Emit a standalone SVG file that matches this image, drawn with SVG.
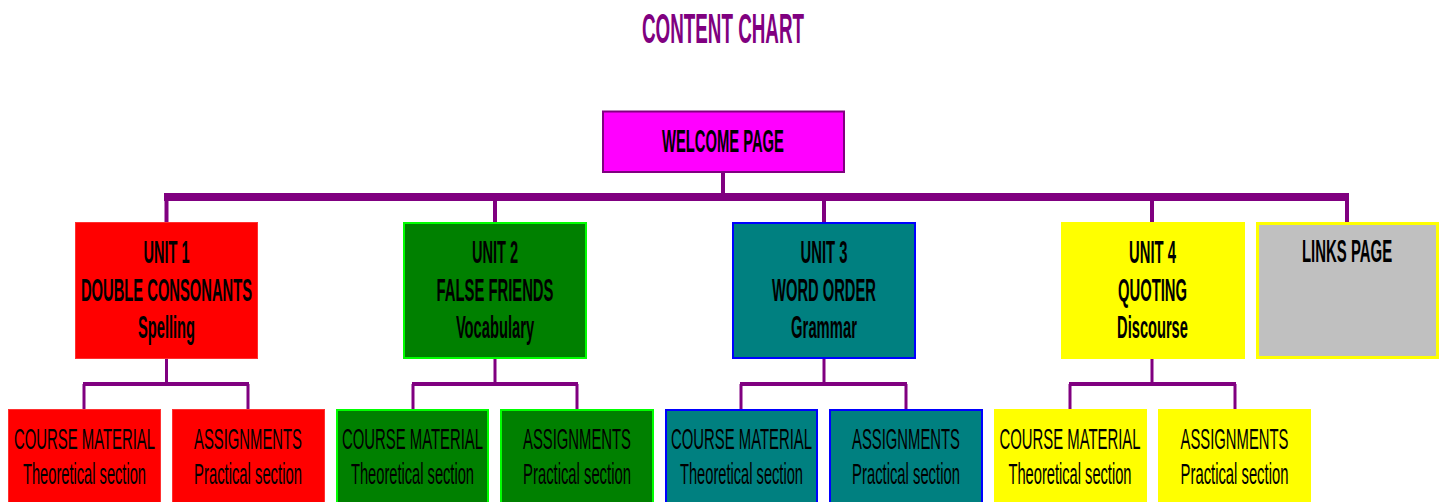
<svg xmlns="http://www.w3.org/2000/svg" width="1445" height="502" viewBox="0 0 1445 502">
<style>
text{font-family:"Liberation Sans",Arial,sans-serif;text-anchor:middle;fill:#000}
.title{font-size:42px;font-weight:bold;fill:#800080}
.u{font-size:31px;font-weight:bold}
.c{font-size:30px}
.bar{stroke:#800080;fill:none}
.red{fill:#FF0000;stroke:#FF3030;stroke-width:1}
.green{fill:#008000;stroke:#00FF00;stroke-width:2}
.teal{fill:#008080;stroke:#0000FF;stroke-width:2}
.yel{fill:#FFFF00;stroke:#FFFF00;stroke-width:2}
</style>
<text class="title" transform="translate(723 43) scale(0.45 1)" textLength="360" lengthAdjust="spacingAndGlyphs">CONTENT CHART</text>
<g id="connectors" class="bar">
<line x1="164" y1="197" x2="1349" y2="197" stroke-width="8"/>
<line x1="723" y1="172" x2="723" y2="197" stroke-width="4"/>
<line x1="166.5" y1="197" x2="166.5" y2="222" stroke-width="4"/>
<line x1="495" y1="197" x2="495" y2="222" stroke-width="4"/>
<line x1="824" y1="197" x2="824" y2="222" stroke-width="4"/>
<line x1="1152" y1="197" x2="1152" y2="222" stroke-width="4"/>
<line x1="1347" y1="197" x2="1347" y2="222" stroke-width="4"/>
<line x1="166.5" y1="359" x2="166.5" y2="384" stroke-width="3"/>
<line x1="83" y1="384" x2="249" y2="384" stroke-width="4"/>
<line x1="84" y1="384" x2="84" y2="409" stroke-width="3"/>
<line x1="248" y1="384" x2="248" y2="409" stroke-width="3"/>
<line x1="495" y1="359" x2="495" y2="384" stroke-width="3"/>
<line x1="412" y1="384" x2="578" y2="384" stroke-width="4"/>
<line x1="413" y1="384" x2="413" y2="409" stroke-width="3"/>
<line x1="577" y1="384" x2="577" y2="409" stroke-width="3"/>
<line x1="824" y1="359" x2="824" y2="384" stroke-width="3"/>
<line x1="740" y1="384" x2="907" y2="384" stroke-width="4"/>
<line x1="741" y1="384" x2="741" y2="409" stroke-width="3"/>
<line x1="906" y1="384" x2="906" y2="409" stroke-width="3"/>
<line x1="1152" y1="359" x2="1152" y2="384" stroke-width="3"/>
<line x1="1069" y1="384" x2="1236" y2="384" stroke-width="4"/>
<line x1="1070" y1="384" x2="1070" y2="409" stroke-width="3"/>
<line x1="1235" y1="384" x2="1235" y2="409" stroke-width="3"/>
</g>
<g id="welcome">
<rect x="603" y="111.5" width="241" height="60.5" fill="#FF00FF" stroke="#800080" stroke-width="2"/>
<text class="u" transform="translate(723 151.5) scale(0.46 1)" textLength="265" lengthAdjust="spacingAndGlyphs">WELCOME PAGE</text>
</g>
<g id="unit1">
<rect class="red" x="75.5" y="222.5" width="182" height="136"/>
<text class="u" transform="translate(166.5 262.5) scale(0.46 1)" textLength="100" lengthAdjust="spacingAndGlyphs">UNIT 1</text>
<text class="u" transform="translate(166.5 300.5) scale(0.46 1)" textLength="372" lengthAdjust="spacingAndGlyphs">DOUBLE CONSONANTS</text>
<text class="u" transform="translate(166.5 337.5) scale(0.46 1)" textLength="124" lengthAdjust="spacingAndGlyphs">Spelling</text>
</g>
<g id="unit2">
<rect class="green" x="404" y="223" width="182" height="135"/>
<text class="u" transform="translate(495 262.5) scale(0.46 1)" textLength="100" lengthAdjust="spacingAndGlyphs">UNIT 2</text>
<text class="u" transform="translate(495 300.5) scale(0.46 1)" textLength="254" lengthAdjust="spacingAndGlyphs">FALSE FRIENDS</text>
<text class="u" transform="translate(495 337.5) scale(0.46 1)" textLength="170" lengthAdjust="spacingAndGlyphs">Vocabulary</text>
</g>
<g id="unit3">
<rect class="teal" x="733" y="223" width="182" height="135"/>
<text class="u" transform="translate(824 262.5) scale(0.46 1)" textLength="102" lengthAdjust="spacingAndGlyphs">UNIT 3</text>
<text class="u" transform="translate(824 300.5) scale(0.46 1)" textLength="226" lengthAdjust="spacingAndGlyphs">WORD ORDER</text>
<text class="u" transform="translate(824 337.5) scale(0.46 1)" textLength="143" lengthAdjust="spacingAndGlyphs">Grammar</text>
</g>
<g id="unit4">
<rect class="yel" x="1062" y="223" width="182" height="135"/>
<text class="u" transform="translate(1152.5 262.5) scale(0.46 1)" textLength="102" lengthAdjust="spacingAndGlyphs">UNIT 4</text>
<text class="u" transform="translate(1152.5 300.5) scale(0.46 1)" textLength="150" lengthAdjust="spacingAndGlyphs">QUOTING</text>
<text class="u" transform="translate(1152.5 337.5) scale(0.46 1)" textLength="154" lengthAdjust="spacingAndGlyphs">Discourse</text>
</g>
<g id="links">
<rect x="1257.5" y="223.5" width="180" height="134" fill="#C0C0C0" stroke="#FFFF00" stroke-width="3"/>
<text class="u" transform="translate(1347 262) scale(0.46 1)" textLength="196" lengthAdjust="spacingAndGlyphs">LINKS PAGE</text>
</g>
<g id="u1-course">
<rect class="red" x="8.5" y="409.5" width="152" height="100"/>
<text class="c" transform="translate(84.5 448.5) scale(0.49 1)" textLength="288" lengthAdjust="spacingAndGlyphs">COURSE MATERIAL</text>
<text class="c" transform="translate(84.5 484) scale(0.49 1)" textLength="251" lengthAdjust="spacingAndGlyphs">Theoretical section</text>
</g>
<g id="u1-assign">
<rect class="red" x="172.5" y="409.5" width="152" height="100"/>
<text class="c" transform="translate(248 448.5) scale(0.49 1)" textLength="220" lengthAdjust="spacingAndGlyphs">ASSIGNMENTS</text>
<text class="c" transform="translate(248 484) scale(0.49 1)" textLength="220" lengthAdjust="spacingAndGlyphs">Practical section</text>
</g>
<g id="u2-course">
<rect class="green" x="337" y="410" width="151" height="100"/>
<text class="c" transform="translate(412.5 448.5) scale(0.49 1)" textLength="288" lengthAdjust="spacingAndGlyphs">COURSE MATERIAL</text>
<text class="c" transform="translate(412.5 484) scale(0.49 1)" textLength="251" lengthAdjust="spacingAndGlyphs">Theoretical section</text>
</g>
<g id="u2-assign">
<rect class="green" x="501" y="410" width="152" height="100"/>
<text class="c" transform="translate(577 448.5) scale(0.49 1)" textLength="220" lengthAdjust="spacingAndGlyphs">ASSIGNMENTS</text>
<text class="c" transform="translate(577 484) scale(0.49 1)" textLength="220" lengthAdjust="spacingAndGlyphs">Practical section</text>
</g>
<g id="u3-course">
<rect class="teal" x="666" y="410" width="151" height="100"/>
<text class="c" transform="translate(741.5 448.5) scale(0.49 1)" textLength="288" lengthAdjust="spacingAndGlyphs">COURSE MATERIAL</text>
<text class="c" transform="translate(741.5 484) scale(0.49 1)" textLength="251" lengthAdjust="spacingAndGlyphs">Theoretical section</text>
</g>
<g id="u3-assign">
<rect class="teal" x="830" y="410" width="152" height="100"/>
<text class="c" transform="translate(906 448.5) scale(0.49 1)" textLength="220" lengthAdjust="spacingAndGlyphs">ASSIGNMENTS</text>
<text class="c" transform="translate(906 484) scale(0.49 1)" textLength="220" lengthAdjust="spacingAndGlyphs">Practical section</text>
</g>
<g id="u4-course">
<rect class="yel" x="995" y="410" width="151" height="100"/>
<text class="c" transform="translate(1070 448.5) scale(0.49 1)" textLength="288" lengthAdjust="spacingAndGlyphs">COURSE MATERIAL</text>
<text class="c" transform="translate(1070 484) scale(0.49 1)" textLength="251" lengthAdjust="spacingAndGlyphs">Theoretical section</text>
</g>
<g id="u4-assign">
<rect class="yel" x="1159" y="410" width="151" height="100"/>
<text class="c" transform="translate(1234.5 448.5) scale(0.49 1)" textLength="220" lengthAdjust="spacingAndGlyphs">ASSIGNMENTS</text>
<text class="c" transform="translate(1234.5 484) scale(0.49 1)" textLength="220" lengthAdjust="spacingAndGlyphs">Practical section</text>
</g>
</svg>
